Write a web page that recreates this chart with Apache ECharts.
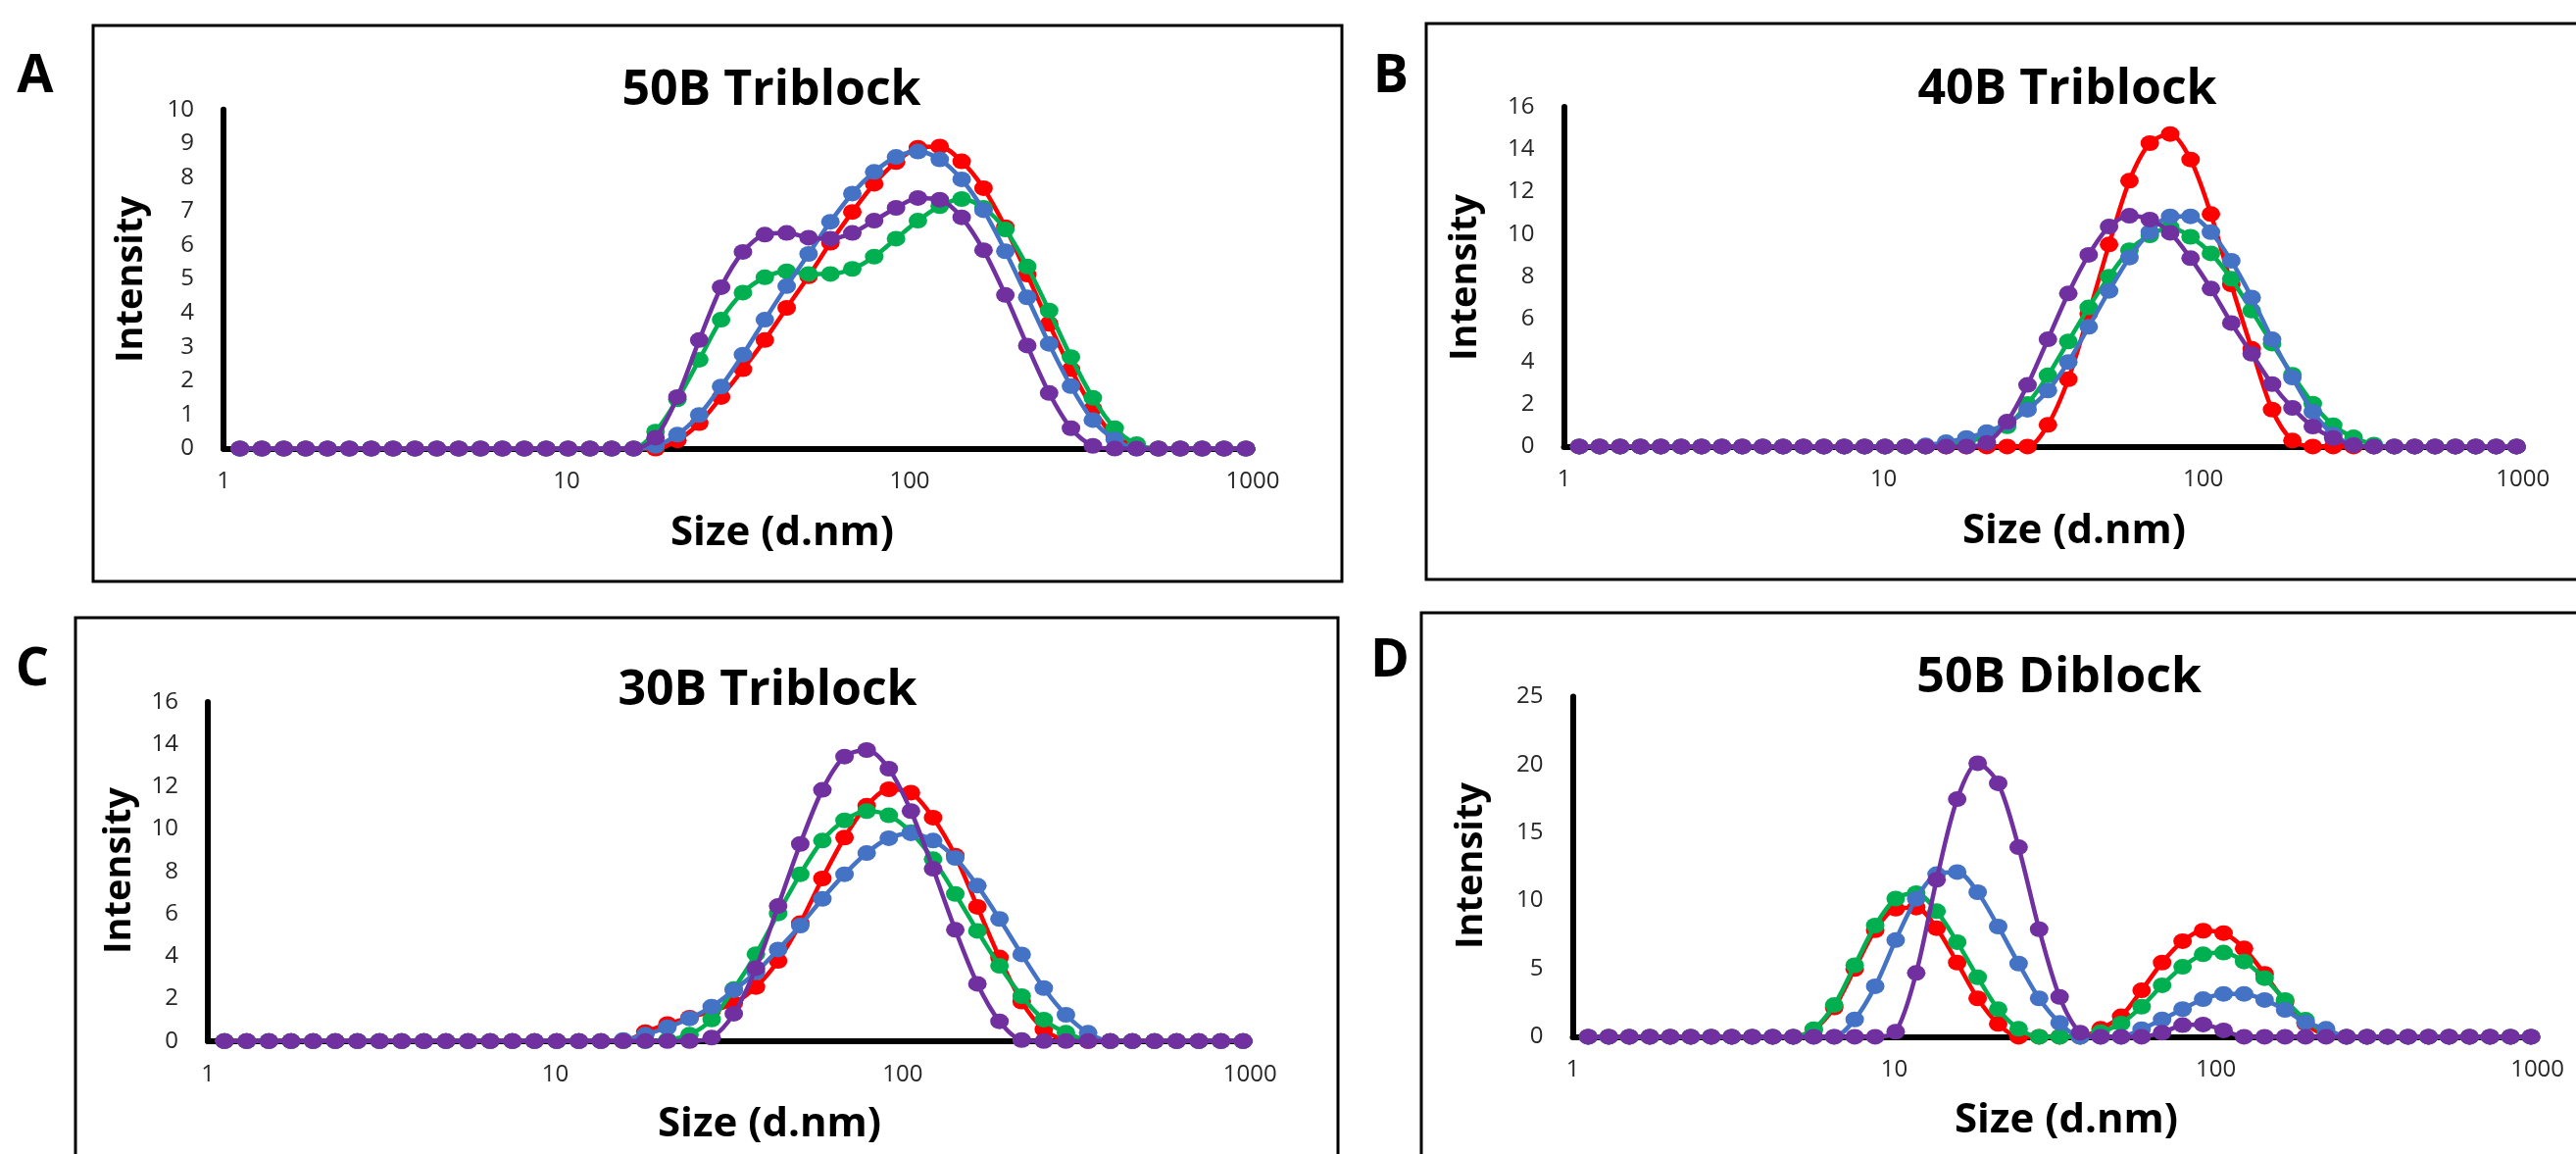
<!DOCTYPE html>
<html>
<head>
<meta charset="utf-8">
<script src="https://cdn.jsdelivr.net/npm/echarts@6/dist/echarts.min.js"></script>
<style>
html,body{margin:0;padding:0;background:#ffffff;}
#chart{width:2628px;height:1177px;}
</style>
</head>
<body>
<div id="chart"></div>
<script>
// Size bins (d.nm) shared by all four panels
const sizes = [1.117, 1.294, 1.499, 1.736, 2.010, 2.328, 2.696, 3.122, 3.615, 4.187,
  4.849, 5.615, 6.503, 7.531, 8.721, 10.10, 11.70, 13.54, 15.69, 18.17,
  21.04, 24.36, 28.21, 32.67, 37.84, 43.82, 50.75, 58.77, 68.06, 78.82,
  91.28, 105.7, 122.4, 141.8, 164.2, 190.1, 220.2, 255.0, 295.3, 342.0,
  396.1, 458.7, 531.2, 615.1, 712.4, 825.0, 955.4];

const panelLetters = ['A', 'B', 'C', 'D'];
const panelTitles = ['50B Triblock', '40B Triblock', '30B Triblock', '50B Diblock'];
const xAxisTitle = 'Size (d.nm)';
const yAxisTitle = 'Intensity';
const xTickValues = [1, 10, 100, 1000];
const yMaxes = [10, 16, 16, 25];
const ySteps = [1, 2, 2, 5];
const seriesColors = ['#FF0000', '#00B050', '#4472C4', '#7030A0'];

// Panel A: 50B Triblock
const A_red = [0,0,0,0,0, 0,0,0,0,0, 0,0,0,0,0, 0,0,0,0,
  0,0.24,0.75,1.52,2.34,3.20,4.15,5.08,6.07,6.98,7.81,8.45,8.87,8.91,8.47,7.68,6.53,5.13,3.68,2.34,1.18,0.36,0.08,
  0,0,0,0,0];
const A_green = [0,0,0,0,0, 0,0,0,0,0, 0,0,0,0,0, 0,0,0,0,
  0.5,1.45,2.62,3.80,4.60,5.05,5.23,5.15,5.15,5.30,5.66,6.19,6.72,7.15,7.36,7.10,6.46,5.37,4.07,2.70,1.50,0.60,0.13,
  0,0,0,0,0];
const A_blue = [0,0,0,0,0, 0,0,0,0,0, 0,0,0,0,0, 0,0,0,0,
  0.08,0.41,0.99,1.83,2.77,3.80,4.79,5.74,6.69,7.52,8.16,8.60,8.76,8.53,7.94,7.03,5.82,4.46,3.09,1.84,0.84,0.27,0,
  0,0,0,0,0];
const A_purple = [0,0,0,0,0, 0,0,0,0,0, 0,0,0,0,0, 0,0,0,0,
  0.32,1.52,3.20,4.76,5.80,6.31,6.36,6.22,6.19,6.36,6.72,7.10,7.39,7.34,6.82,5.85,4.53,3.04,1.64,0.60,0.08,0,0,
  0,0,0,0,0];

// Panel B: 40B Triblock
const B_red = [0,0,0,0,0, 0,0,0,0,0, 0,0,0,0,0, 0,0,0,0,0, 0,0,
  0,1.02,3.17,6.25,9.52,12.52,14.29,14.72,13.52,10.95,7.64,4.6,1.74,0.28,0,
  0,0,0,0,0, 0,0,0,0,0];
const B_green = [0,0,0,0,0, 0,0,0,0,0, 0,0,0,0,0, 0,0,0,
  0.05,0.2,0.5,0.95,2.0,3.35,4.95,6.55,8.0,9.25,9.95,10.33,9.88,9.1,7.9,6.4,4.85,3.38,2.02,1.0,0.43,0.09,
  0,0,0,0,0, 0,0];
const B_blue = [0,0,0,0,0, 0,0,0,0,0, 0,0,0,0,0, 0,0,
  0.05,0.2,0.4,0.68,1.1,1.73,2.64,3.98,5.64,7.33,8.90,10.10,10.84,10.84,10.10,8.75,7.02,5.05,3.25,1.64,0.56,0.09,0,
  0,0,0,0,0, 0,0];
const B_purple = [0,0,0,0,0, 0,0,0,0,0, 0,0,0,0,0, 0,0,0,0,0,
  0.17,1.17,2.90,5.05,7.21,9.03,10.36,10.87,10.69,10.07,8.87,7.44,5.82,4.37,2.94,1.82,0.94,0.40,0.06,0,
  0,0,0,0,0, 0,0];

// Panel C: 30B Triblock
const C_red = [0,0,0,0,0, 0,0,0,0,0, 0,0,0,0,0, 0,0,0,
  0,0.42,0.8,1.1,1.42,1.78,2.55,3.78,5.56,7.67,9.6,11.1,11.88,11.72,10.54,8.75,6.33,3.94,1.86,0.55,0.05,0,
  0,0,0,0,0, 0,0];
const C_green = [0,0,0,0,0, 0,0,0,0,0, 0,0,0,0,0, 0,0,0,0,
  0,0.05,0.3,1.02,2.45,4.1,6.02,7.87,9.46,10.41,10.85,10.65,9.85,8.58,6.94,5.2,3.55,2.12,1.01,0.39,0.05,
  0,0,0,0,0, 0,0];
const C_blue = [0,0,0,0,0, 0,0,0,0,0, 0,0,0,0,0, 0,0,0,
  0.05,0.3,0.65,1.07,1.62,2.4,3.24,4.32,5.45,6.71,7.87,8.87,9.57,9.80,9.46,8.64,7.33,5.76,4.09,2.50,1.24,0.39,0,
  0,0,0,0,0, 0];
const C_purple = [0,0,0,0,0, 0,0,0,0,0, 0,0,0,0,0, 0,0,0,0,0, 0,
  0,0.16,1.29,3.44,6.37,9.30,11.85,13.42,13.73,12.85,10.85,8.13,5.25,2.70,0.93,0.05,0,
  0,0,0,0,0, 0,0,0,0];

// Panel D: 50B Diblock
const D_red = [0,0,0,0,0, 0,0,0,0,0,
  0,0.5,2.15,4.98,7.82,9.41,9.49,7.98,5.45,2.82,0.94,0,0,0,0,0.58,1.5,3.41,5.45,7.02,7.79,7.62,6.49,4.62,2.57,0.98,0.1,0,
  0,0,0,0,0, 0,0,0,0];
const D_green = [0,0,0,0,0, 0,0,0,0,0,
  0,0.56,2.33,5.25,8.17,10.15,10.55,9.23,6.95,4.37,2.02,0.58,0,0,0,0.34,0.97,2.21,3.78,5.14,6.06,6.18,5.53,4.30,2.7,1.25,0.3,0,
  0,0,0,0,0, 0,0,0,0];
const D_blue = [0,0,0,0,0, 0,0,0,0,0,
  0,0,0,1.27,3.71,7.1,10.14,11.95,12.1,10.62,8.10,5.38,2.82,1.02,0,0,0,0.56,1.27,2.03,2.76,3.15,3.15,2.7,1.97,1.06,0.58,0,
  0,0,0,0,0, 0,0,0,0];
const D_purple = [0,0,0,0,0, 0,0,0,0,0,
  0,0,0,0,0,0.37,4.69,11.53,17.46,20.1,18.62,13.93,7.9,2.93,0.3,0,0,0,0.3,0.85,0.9,0.47,0,0,0,0,0,0,
  0,0,0,0,0, 0,0,0,0];

const panelData = [
  [A_red, A_green, A_blue, A_purple],
  [B_red, B_green, B_blue, B_purple],
  [C_red, C_green, C_blue, C_purple],
  [D_red, D_green, D_blue, D_purple]
];

panelData.forEach((p, pi) => p.forEach((arr, si) => {
  if (arr.length !== sizes.length) throw new Error('length mismatch panel ' + pi + ' series ' + si + ': ' + arr.length);
}));

// ---- layout (pixels) ----
const grids = [
  {left: 228, top: 111.7, width: 1050, height: 345.8},
  {left: 1595.5, top: 109, width: 978.3, height: 346.4},
  {left: 212, top: 715.9, width: 1063.2, height: 345.9},
  {left: 1604.5, top: 710.4, width: 984.1, height: 347}
];
const boxes = [
  {x: 95, y: 26, w: 1274, h: 567},
  {x: 1455, y: 24, w: 1190, h: 567},
  {x: 77, y: 630, w: 1288, h: 570},
  {x: 1450, y: 625, w: 1195, h: 575}
];
const letterPos = [[36, 79], [1419, 79], [33, 684], [1418, 675]];
const titlePos = [[787, 92.6], [2109, 91.6], [783, 704.6], [2100.6, 691.6]];
const xNamePos = [[798, 544], [2116, 542], [785, 1147], [2108, 1143]];
const yNamePos = [[134, 285], [1495, 283], [122, 888], [1501, 883]];

const FONT = '"Open Sans", "DejaVu Sans", sans-serif';

const option = {
  animation: false,
  backgroundColor: '#ffffff',
  grid: grids.map(g => Object.assign({containLabel: false, outerBoundsMode: 'none', show: false}, g)),
  xAxis: grids.map((g, i) => ({
    type: 'log', logBase: 10, gridIndex: i, min: 1, max: 1000,
    axisLine: {show: true, onZero: true, lineStyle: {color: '#000', width: 6}},
    axisTick: {show: false},
    splitLine: {show: false},
    minorTick: {show: false},
    axisLabel: {
      show: true, margin: 22, fontFamily: FONT, fontSize: 24, color: '#262626',
      formatter: v => { const r = Math.round(v); return xTickValues.indexOf(r) >= 0 ? String(r) : ''; }
    }
  })),
  yAxis: grids.map((g, i) => ({
    type: 'value', gridIndex: i, min: 0, max: yMaxes[i], interval: ySteps[i],
    axisLine: {show: true, lineStyle: {color: '#000', width: 6}},
    axisTick: {show: false},
    splitLine: {show: false},
    axisLabel: {show: true, margin: 30, fontFamily: FONT, fontSize: 24, color: '#262626'}
  })),
  series: [],
  graphic: []
};

panelData.forEach((p, pi) => {
  p.forEach((arr, si) => {
    option.series.push({
      type: 'line',
      xAxisIndex: pi, yAxisIndex: pi,
      data: sizes.map((s, k) => [s, arr[k]]),
      smooth: 0.3,
      symbol: 'circle',
      symbolSize: [19, 16],
      showAllSymbol: true,
      silent: true,
      clip: false,
      z: 3 + si,
      lineStyle: {color: seriesColors[si], width: 4.5},
      itemStyle: {color: seriesColors[si], borderWidth: 0},
      emphasis: {disabled: true}
    });
  });
});

boxes.forEach(b => {
  option.graphic.push({
    type: 'rect', silent: true, z: 0,
    shape: {x: b.x, y: b.y, width: b.w, height: b.h},
    style: {fill: 'none', stroke: '#000', lineWidth: 3}
  });
});

function txt(str, pos, size, rot) {
  return {
    type: 'text', silent: true, z: 10,
    x: pos[0], y: pos[1], rotation: rot || 0,
    style: {
      text: str, fill: '#000',
      font: 'bold ' + size + 'px ' + FONT,
      align: 'center', verticalAlign: 'middle',
      textAlign: 'center', textVerticalAlign: 'middle'
    }
  };
}

for (let i = 0; i < 4; i++) {
  option.graphic.push(txt(panelLetters[i], letterPos[i], 54));
  option.graphic.push(txt(panelTitles[i], titlePos[i], 50));
  option.graphic.push(txt(xAxisTitle, xNamePos[i], 42));
  option.graphic.push(txt(yAxisTitle, yNamePos[i], 38, Math.PI / 2));
}

const chart = echarts.init(document.getElementById('chart'), null, {renderer: 'canvas', width: 2628, height: 1177});
chart.setOption(option);
</script>
</body>
</html>
